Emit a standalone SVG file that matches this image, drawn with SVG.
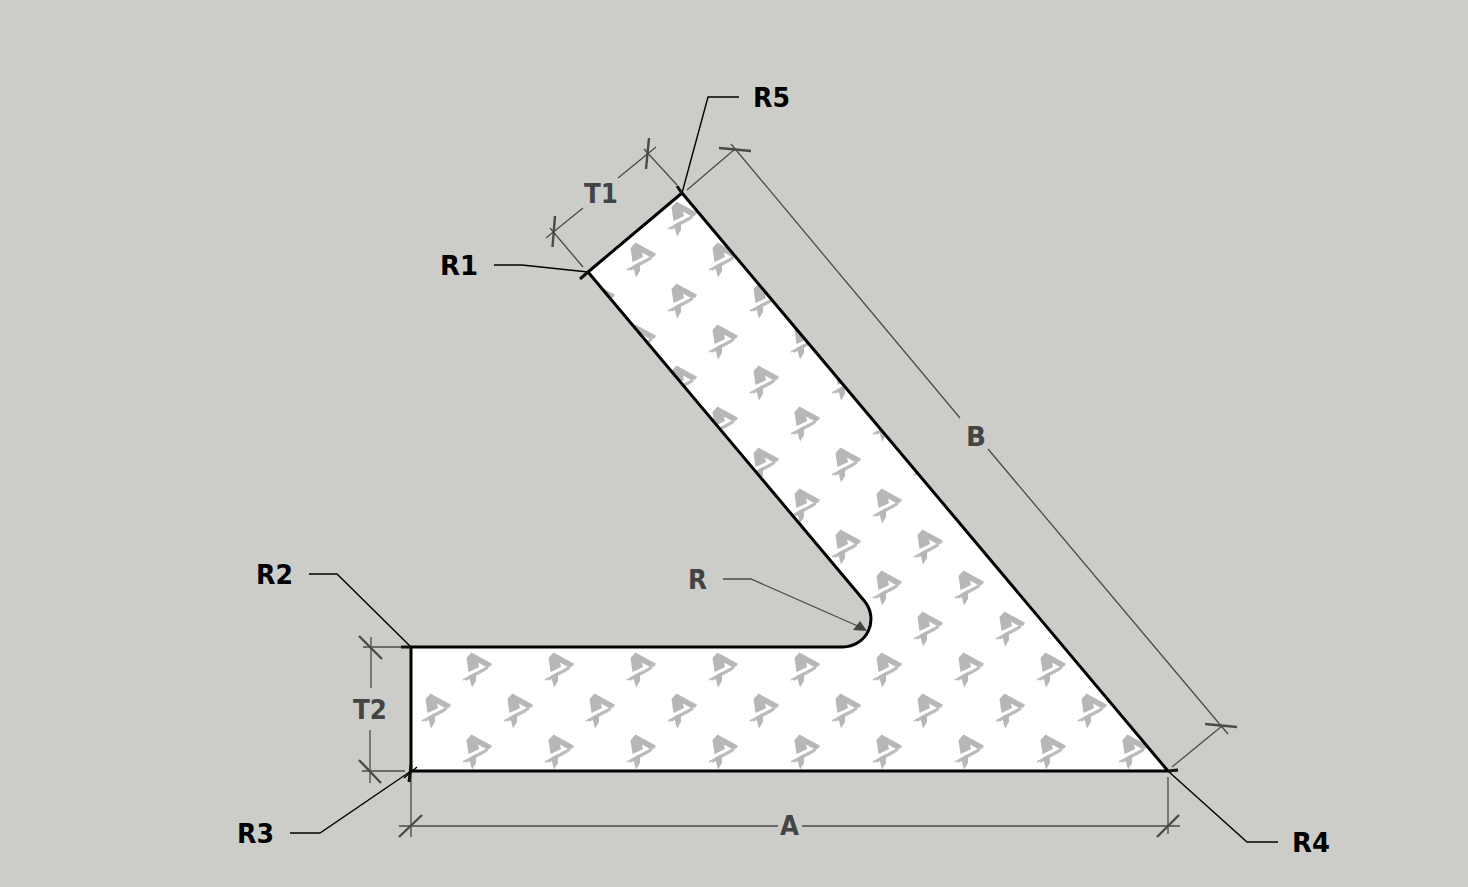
<svg xmlns="http://www.w3.org/2000/svg" width="1468" height="887" viewBox="0 0 1468 887">
<style>
.bg{fill:#cccdc8}
.part{fill:url(#wm);stroke:#000;stroke-width:3;stroke-linejoin:round}
.dim{fill:none;stroke:#4a4a4a;stroke-width:1.3}
.tick{fill:none;stroke:#4a4a4a;stroke-width:2.4}
.lead{fill:none;stroke:#000;stroke-width:1.4}
.mark{fill:none;stroke:#111;stroke-width:3}
.k{font:700 27px "DejaVu Sans","Liberation Sans",sans-serif;fill:#000}
.d{font:700 27px "DejaVu Sans","Liberation Sans",sans-serif;fill:#444}
</style>
<defs>
<g id="logo">
<path fill="#b7b7b7" d="M-9.500,-13 L-4.500,-18.500 L16.500,-7 L10,-4 L2,-8.500 L3,-4 L-3,-1 L-7.500,1 Z"/>
<path fill="none" stroke="#bcbcbc" stroke-width="1.800" d="M15,-6 L-13,9 M12,-3 L-10,9 M9,-1 L-8,8"/>
<path fill="#b7b7b7" d="M-7,5 L0,1 L0,10 L-4,16.500 Z"/>
</g>
<pattern id="wm" patternUnits="userSpaceOnUse" x="435" y="630" width="82" height="82">
<rect width="82" height="82" fill="#fff"/>
<use href="#logo" x="41" y="41"/>
<use href="#logo" x="0" y="0"/>
<use href="#logo" x="82" y="0"/>
<use href="#logo" x="0" y="82"/>
<use href="#logo" x="82" y="82"/>
</pattern>
</defs>
<rect class="bg" width="1468" height="887"/>
<g id="profile">
<path class="part" d="M411,647 L843,647 A28,28 0 0 0 864.4,601 L588,272 L682,193 L1168,771 L411,771 Z"/>
</g>
<g id="connectors">
<g id="dim-T1">
<path class="dim" d="M546,238 L583,208 M618,178 L656,147 M550,228 L583,267 M644,149 L677,185"/>
<path class="tick" d="M555,216 L552.500,247 M649,138 L646,169"/>
</g>
<g id="dim-B">
<path class="dim" d="M687,190 L735,149 M1172,767 L1222,726 M731,144 L960,418 M988,449 L1228,734"/>
<path class="tick" d="M719,148 L751,151 M1205,724 L1237,727"/>
</g>
<g id="dim-A">
<path class="dim" d="M411,772 L411,837 M1168,777 L1168,834 M399,826 L778,826 M802,826 L1180,826"/>
<path class="tick" d="M399,837 L422,815 M1157,837 L1179,815"/>
</g>
<g id="dim-T2">
<path class="dim" d="M363,647 L411,647 M362,771 L405,771 M371,637 L371,688 M370,730 L370,783"/>
<path class="tick" d="M359,636 L382,659 M359,760 L381,783"/>
</g>
<g id="dim-R">
<path class="dim" d="M723,579 L751,579 L860,627"/>
<path fill="#444" d="M867,631 L853,630 L860,621 Z"/>
</g>
<g id="leaders">
<path class="lead" d="M739,97 L708,97 L682,193 M494,265 L522,265 L588,272 M309,574 L337,574 L411,647 M290,833 L320,833 L411,771 M1168,771 L1247,842 L1278,842"/>
<path class="mark" d="M677,186 L681,192 M580,279 L588,272 M401,647 L411,647 M411,765 L409,782 M1168,771 L1178,770"/>
<path class="lead" d="M404,778 L417,767"/>
</g>
</g>
<g id="label-R5"><text class="k" x="753" y="106.500" textLength="37" lengthAdjust="spacingAndGlyphs">R5</text></g>
<g id="label-R1"><text class="k" x="440" y="274.500" textLength="38" lengthAdjust="spacingAndGlyphs">R1</text></g>
<g id="label-R2"><text class="k" x="256" y="583.500" textLength="37" lengthAdjust="spacingAndGlyphs">R2</text></g>
<g id="label-R3"><text class="k" x="237" y="842.500" textLength="37" lengthAdjust="spacingAndGlyphs">R3</text></g>
<g id="label-R4"><text class="k" x="1292" y="851.500" textLength="38" lengthAdjust="spacingAndGlyphs">R4</text></g>
<g id="label-T1"><text class="d" x="584" y="202.500" textLength="34" lengthAdjust="spacingAndGlyphs">T1</text></g>
<g id="label-T2"><text class="d" x="353" y="718.500" textLength="34" lengthAdjust="spacingAndGlyphs">T2</text></g>
<g id="label-A"><text class="d" x="780" y="834.500" textLength="19" lengthAdjust="spacingAndGlyphs">A</text></g>
<g id="label-B"><text class="d" x="966" y="445.500" textLength="20" lengthAdjust="spacingAndGlyphs">B</text></g>
<g id="label-R"><text class="d" x="688" y="588.500" textLength="19" lengthAdjust="spacingAndGlyphs">R</text></g>
</svg>
